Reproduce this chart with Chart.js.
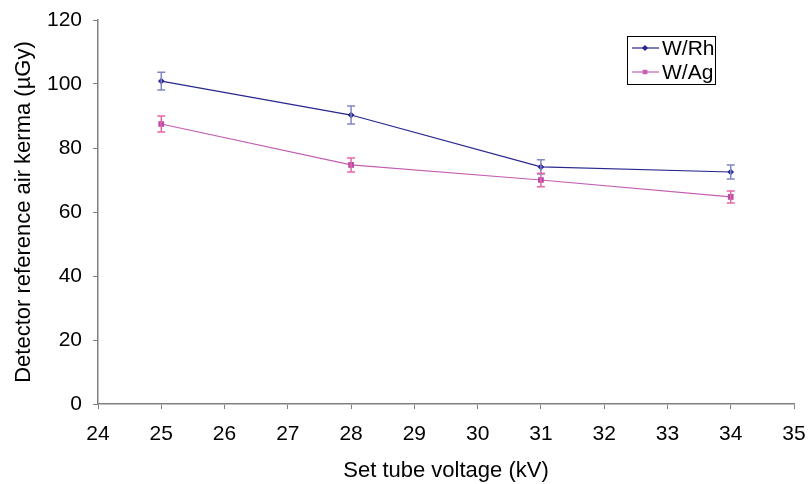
<!DOCTYPE html>
<html><head><meta charset="utf-8">
<script src="https://cdn.jsdelivr.net/npm/chart.js@4"></script>
<style>html,body{margin:0;padding:0;background:#fff}#wrap{width:809px;height:484px;position:relative}</style>
</head><body><div id="wrap"><canvas id="c" width="809" height="484"></canvas></div>
<script>
const voltages = [25, 28, 31, 34];
const wRh = [100.9, 90.3, 74.1, 72.5];
const wRhErr = [2.8, 2.8, 2.2, 2.2];
const wAg = [87.5, 74.7, 70.0, 64.7];
const wAgErr = [2.5, 2.2, 2.1, 1.9];
const seriesNames = ['W/Rh', 'W/Ag'];
const xTitle = 'Set tube voltage (kV)';
const yTitle = 'Detector reference air kerma (µGy)';

const FONT = 'Liberation Sans, Arial, sans-serif';
const cRh = '#27278f', cRhErr = '#7f86c6';
const cAg = '#c45eb4', cAg2 = '#b84aa8', cAgErr = '#e866a8';

const errPlugin = {
  id: 'err',
  afterDatasetsDraw(chart) {
    const ctx = chart.ctx, xs = chart.scales.x, ys = chart.scales.y;
    chart.data.datasets.forEach(ds => {
      ctx.save();
      ctx.strokeStyle = ds.errColor; ctx.lineWidth = 1.5;
      ds.data.forEach((p, i) => {
        const x = xs.getPixelForValue(p.x);
        const t = ys.getPixelForValue(p.y + ds.err[i]);
        const b = ys.getPixelForValue(p.y - ds.err[i]);
        ctx.beginPath();
        ctx.moveTo(x, t); ctx.lineTo(x, b);
        ctx.moveTo(x - 4, t); ctx.lineTo(x + 4, t);
        ctx.moveTo(x - 4, b); ctx.lineTo(x + 4, b);
        ctx.stroke();
      });
      ctx.restore();
    });
  }
};

const legendPlugin = {
  id: 'leg',
  afterDraw(chart) {
    const ctx = chart.ctx;
    ctx.save();
    const L = 627, T = 36, W = 88, H = 48;
    ctx.strokeStyle = '#000'; ctx.lineWidth = 1;
    ctx.strokeRect(L + 0.5, T + 0.5, W, H);
    ctx.font = '21px ' + FONT; ctx.fillStyle = '#000'; ctx.textBaseline = 'middle';
    const rows = [
      {name: seriesNames[0], color: cRh, style: 'rectRot', y: T + 12},
      {name: seriesNames[1], color: cAg, style: 'rect', y: T + 36}
    ];
    rows.forEach(r => {
      ctx.strokeStyle = r.color; ctx.lineWidth = 1.2;
      ctx.beginPath(); ctx.moveTo(L + 5, r.y); ctx.lineTo(L + 32, r.y); ctx.stroke();
      ctx.fillStyle = r.color;
      Chart.helpers.drawPoint(ctx, {pointStyle: r.style, radius: r.style === 'rect' ? 2.5 : 2.2, borderWidth: 1}, L + 18, r.y);
      ctx.fillStyle = '#000';
      ctx.fillText(r.name, L + 35, r.y + 1);
    });
    ctx.restore();
  }
};

new Chart(document.getElementById('c'), {
  type: 'line',
  data: {
    datasets: [
      {label: seriesNames[0], data: voltages.map((v, i) => ({x: v, y: wRh[i]})), err: wRhErr, errColor: cRhErr,
       borderColor: cRh, backgroundColor: cRh, borderWidth: 1.2, pointStyle: 'rectRot', pointRadius: 2.5, pointBorderColor: cRh, pointBackgroundColor: cRh, tension: 0},
      {label: seriesNames[1], data: voltages.map((v, i) => ({x: v, y: wAg[i]})), err: wAgErr, errColor: cAgErr,
       borderColor: cAg, backgroundColor: cAg2, borderWidth: 1.2, pointStyle: 'rect', pointRadius: 3.2, pointBorderColor: cAg2, pointBackgroundColor: cAg2, tension: 0}
    ]
  },
  options: {
    responsive: false, animation: false, devicePixelRatio: 1,
    layout: {padding: {left: 0, right: 15, top: 20, bottom: 0}},
    plugins: {legend: {display: false}, tooltip: {enabled: false}},
    scales: {
      x: {
        type: 'linear', min: 24, max: 35,
        ticks: {stepSize: 1, color: '#000', font: {family: FONT, size: 21}, padding: 13, maxRotation: 0},
        grid: {drawOnChartArea: false, color: '#808080', tickLength: 5, tickColor: '#808080'},
        border: {color: '#808080', width: 1.5},
        title: {display: true, text: xTitle, color: '#000', font: {family: FONT, size: 22}, padding: {top: 0, bottom: 0}},
        afterFit(s) { s.height = 80; s.paddingLeft = 0; s.paddingRight = 0; }
      },
      y: {
        min: 0, max: 120,
        ticks: {stepSize: 20, color: '#000', font: {family: FONT, size: 21}, padding: 11},
        grid: {drawOnChartArea: false, color: '#808080', tickLength: 5, tickColor: '#808080'},
        border: {color: '#808080', width: 1.5},
        title: {display: true, text: yTitle, color: '#000', font: {family: FONT, size: 22}, padding: {top: 11, bottom: 0}},
        afterFit(s) { s.width = 98; s.paddingTop = 0; s.paddingBottom = 0; }
      }
    }
  },
  plugins: [errPlugin, legendPlugin]
});
</script></body></html>
